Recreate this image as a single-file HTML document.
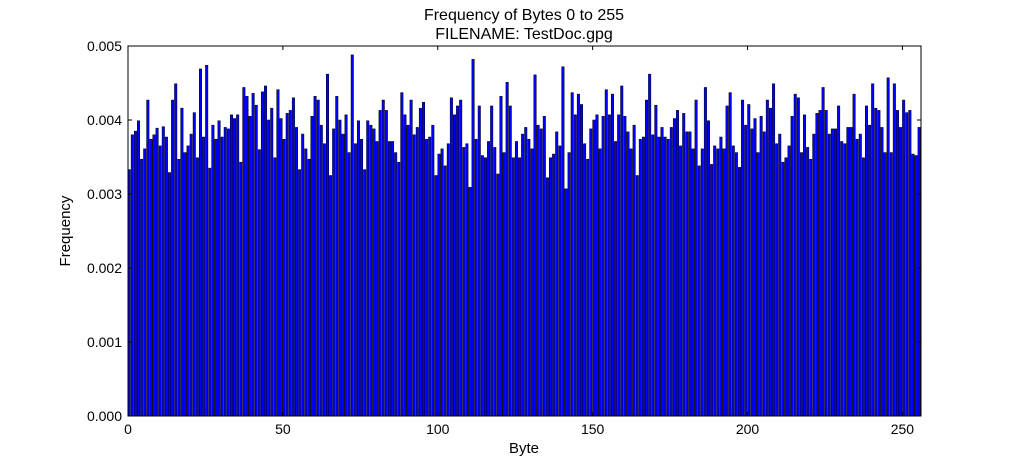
<!DOCTYPE html>
<html><head><meta charset="utf-8"><style>
body{margin:0;background:#fff;}
svg text{font-family:"Liberation Sans",sans-serif;fill:#000;}
</style></head><body>
<svg id="chart" width="1024" height="464" xmlns="http://www.w3.org/2000/svg">
<text x="524" y="20" font-size="16" text-anchor="middle">Frequency of Bytes 0 to 255</text>
<text x="524" y="39" font-size="16" text-anchor="middle">FILENAME: TestDoc.gpg</text>
<g id="bars"></g>
<g id="axes"></g>
<text x="524" y="453" font-size="15" text-anchor="middle">Byte</text>
<text x="70" y="231" font-size="15" text-anchor="middle" transform="rotate(-90 70 231)">Frequency</text>
</svg>
<script>
const values=[3.33,3.80,3.85,3.99,3.47,3.61,4.27,3.74,3.80,3.89,3.65,3.91,3.77,3.29,4.27,4.49,3.47,4.16,3.56,3.65,3.81,4.10,3.49,4.69,3.77,4.74,3.35,3.93,3.74,3.99,3.77,3.90,3.88,4.07,4.02,4.07,3.43,4.44,4.32,4.05,4.36,4.20,3.60,
4.38,4.46,4.00,4.16,3.49,4.41,4.02,3.74,4.09,4.13,4.30,3.90,3.33,3.81,3.61,3.47,4.05,4.32,4.27,3.93,3.68,4.62,3.25,3.88,4.32,4.00,3.81,4.07,3.56,4.88,3.68,3.99,3.74,3.33,3.99,3.93,3.88,3.71,4.13,4.27,4.13,3.71,
3.71,3.56,3.43,4.37,4.07,3.93,4.27,3.80,3.90,4.16,4.24,3.74,3.77,3.93,3.25,3.54,3.61,3.38,3.68,4.30,4.07,4.19,4.27,3.63,3.68,3.09,4.82,3.74,4.19,3.52,3.49,3.71,4.19,3.63,3.27,4.32,3.56,4.51,4.19,3.49,3.71,3.49,3.81,3.90,
3.74,3.61,4.61,3.93,3.88,4.05,3.22,3.49,3.54,3.84,3.65,4.72,3.07,3.56,4.37,4.07,4.35,4.21,3.68,3.47,3.88,4.00,4.07,3.61,4.05,4.41,4.07,4.35,3.71,4.07,4.46,4.05,3.84,3.61,3.93,3.25,3.74,3.77,4.27,4.62,3.80,4.20,
3.77,3.90,3.77,3.74,3.90,4.02,4.13,3.65,4.09,3.84,3.84,3.61,4.27,3.38,3.61,4.44,3.99,3.40,3.65,3.61,3.77,3.61,4.19,4.37,3.65,3.56,3.36,4.27,3.93,4.21,3.88,4.02,3.56,4.05,3.84,4.27,4.16,4.49,3.68,3.81,3.43,3.49,3.65,
4.05,4.35,4.30,3.56,4.07,3.63,3.47,3.81,4.09,4.13,4.44,4.13,3.81,3.88,3.88,4.19,3.71,3.68,3.90,3.90,4.35,3.74,3.81,3.49,4.19,3.93,4.49,4.16,4.13,3.90,3.56,4.57,3.56,4.49,4.13,3.90,4.27,4.10,4.13,3.54,3.52,3.90];
const xTicks=[0,50,100,150,200,250];
const yTicks=[0,0.001,0.002,0.003,0.004,0.005];
const yTickLabels=["0.000","0.001","0.002","0.003","0.004","0.005"];
const L=128,R=921,T=46,B=416,NS="http://www.w3.org/2000/svg";
const xs=v=>L+(v/256)*(R-L);
const ys=v=>B-(v/0.005)*(B-T);
const bars=document.getElementById('bars');
values.forEach((v,i)=>{
 const r=document.createElementNS(NS,'rect');
 const y=ys(v/1000);
 r.setAttribute('x',xs(i));r.setAttribute('y',y);
 r.setAttribute('width',xs(0.8)-xs(0));r.setAttribute('height',B-y);
 r.setAttribute('fill','#0000ff');r.setAttribute('stroke','#000');r.setAttribute('stroke-width','0.5');
 
 
 bars.appendChild(r);
});
const ax=document.getElementById('axes');
function el(t,a){const e=document.createElementNS(NS,t);for(const k in a)e.setAttribute(k,a[k]);ax.appendChild(e);return e;}
const frame=el('rect',{x:L,y:T,width:R-L,height:B-T,fill:'none',stroke:'#000','stroke-width':1});


xTicks.forEach(t=>{
 const x=xs(t);
 el('line',{x1:x,x2:x,y1:B,y2:B-4,stroke:'#000'});
 el('line',{x1:x,x2:x,y1:T,y2:T+4,stroke:'#000'});
 const tx=el('text',{x:x,y:B+18,'font-size':14,'text-anchor':'middle'});tx.textContent=t;
 
 
});
yTicks.forEach((t,i)=>{
 const y=ys(t);
 el('line',{x1:L,x2:L+4,y1:y,y2:y,stroke:'#000'});
 el('line',{x1:R,x2:R-4,y1:y,y2:y,stroke:'#000'});
 const tx=el('text',{x:L-6,y:y+5,'font-size':14,'text-anchor':'end'});tx.textContent=yTickLabels[i];
 
 
});
</script>
</body></html>
